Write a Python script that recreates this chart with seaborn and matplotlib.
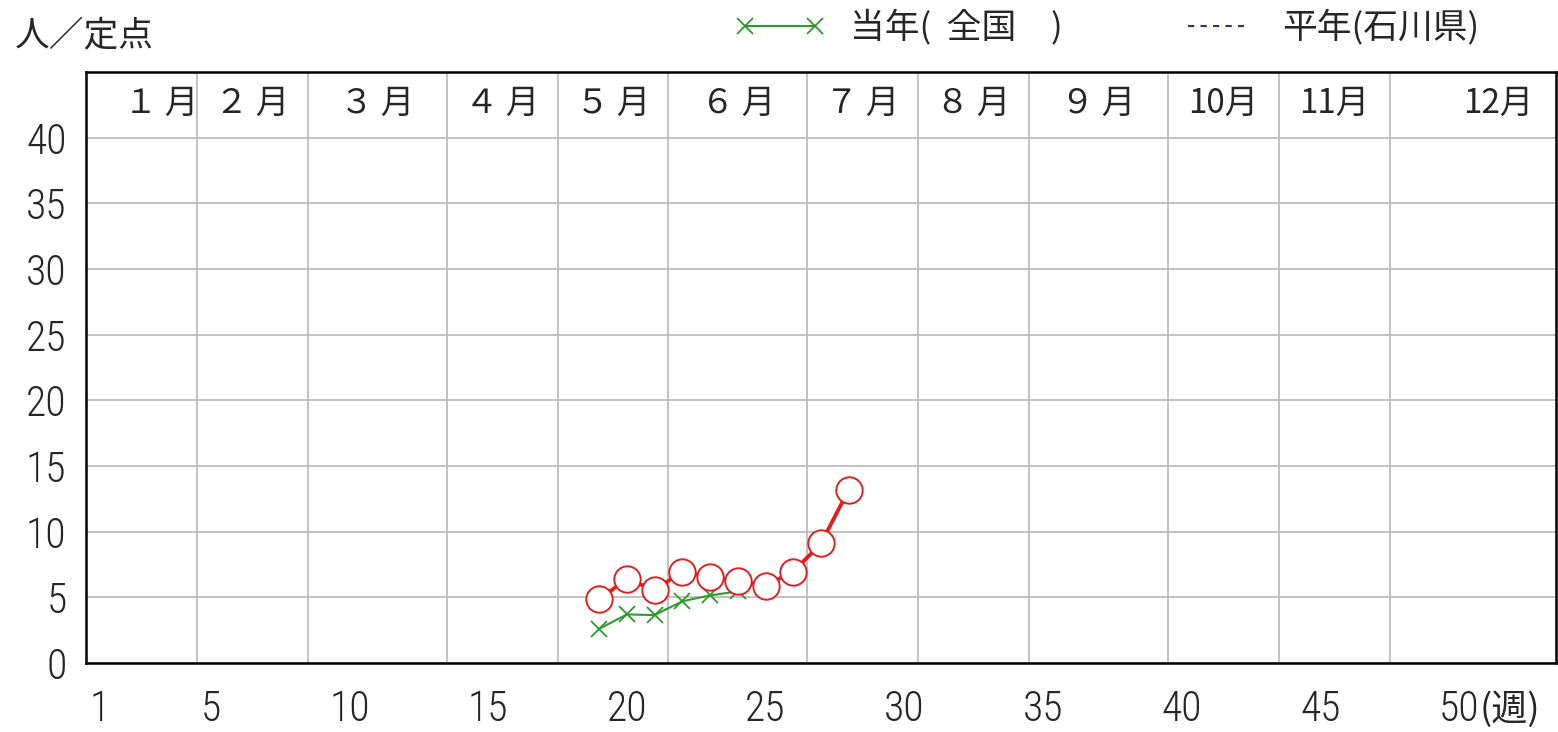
import numpy as np
import pandas as pd
import matplotlib.pyplot as plt
import seaborn as sns
from matplotlib.lines import Line2D

# 当年(石川県) - red circles
weeks_ishikawa = [19, 20, 21, 22, 23, 24, 25, 26, 27, 28]
val_ishikawa = [4.85, 6.4, 5.55, 6.95, 6.55, 6.25, 5.9, 6.95, 9.1, 13.2]
# 当年(全国) - green crosses
weeks_zenkoku = [19, 20, 21, 22, 23, 24]
val_zenkoku = [2.6, 3.7, 3.65, 4.7, 5.15, 5.45]

month_labels = ["１ 月", "２ 月", "３ 月", "４ 月", "５ 月", "６ 月", "７ 月", "８ 月", "９ 月", "10月", "11月", "12月"]
month_edges = [0, 4, 8, 13, 17, 21, 26, 30, 34, 39, 43, 47, 53]
week_labels = [1, 5, 10, 15, 20, 25, 30, 35, 40, 45, 50]
y_ticks = [0, 5, 10, 15, 20, 25, 30, 35, 40]

RED = "#e02020"
GREEN = "#2e9a2e"
BLUE = "#2a2aa8"
GRID = "#b8b8b8"
JP = "Noto Sans CJK JP"
NUM = ["Liberation Sans Narrow", "Roboto Condensed", "Noto Sans Condensed",
       "Open Sans Condensed", "DejaVu Sans Condensed", "Noto Sans CJK JP"]

sns.set_style("white")
plt.rcParams["font.family"] = ["Noto Sans CJK JP", "DejaVu Sans"]

W, H = 1558, 732
fig = plt.figure(figsize=(W / 100, H / 100), dpi=100)
ax = fig.add_axes([86 / W, (H - 663) / H, (1556 - 86) / W, (663 - 72) / H])

ax.set_xlim(0, 53)
ax.set_ylim(0, 45)

# grid
ax.set_yticks(y_ticks)
ax.yaxis.grid(True, color=GRID, lw=1.2)
ax.xaxis.grid(False)
ax.vlines(month_edges[1:-1], 0, 45, color=GRID, lw=1.2, zorder=0.5)
ax.set_axisbelow(True)

df_z = pd.DataFrame({"x": np.array(weeks_zenkoku) - 0.5, "y": val_zenkoku})
df_i = pd.DataFrame({"x": np.array(weeks_ishikawa) - 0.5, "y": val_ishikawa})

sns.lineplot(data=df_z, x="x", y="y", ax=ax, color=GREEN, lw=1.5,
             marker="x", markersize=11, markeredgewidth=1.3,
             markeredgecolor=GREEN, zorder=3)
sns.lineplot(data=df_i, x="x", y="y", ax=ax, color=RED, lw=2.8,
             marker="o", markersize=19, markerfacecolor="white",
             markeredgecolor=RED, markeredgewidth=1.4, zorder=4)
ax.set_xlabel("")
ax.set_ylabel("")

# ticks
ax.set_xticks(np.arange(0, 54), minor=True)
ax.set_xticks(np.array(week_labels) - 0.5)
ax.set_xticklabels([str(w) for w in week_labels])
ax.tick_params(axis="x", which="minor", length=9.5, width=1.6, color="black", direction="out")
ax.tick_params(axis="x", which="major", length=0, pad=19, labelsize=30)
ax.tick_params(axis="y", length=0, pad=14, labelsize=30)
for lab in ax.get_xticklabels() + ax.get_yticklabels():
    lab.set_family(NUM)
    lab.set_fontstretch("condensed")
    lab.set_fontweight("light")

for s in ax.spines.values():
    s.set_color("black")
    s.set_linewidth(1.8)

# (週) after the last week label
last = ax.get_xticklabels()[-1]
ax.annotate("(週)", xy=(1, 0.5), xycoords=last, ha="left", va="center",
            fontsize=26, family=JP)

# month labels in the top band
month_nudge = {0: 0.7, 11: 0.9}
for i, lab in enumerate(month_labels):
    cx = (month_edges[i] + month_edges[i + 1]) / 2 + month_nudge.get(i, 0)
    ax.text(cx, 42.6, lab, ha="center", va="center", fontsize=24, family=JP)

fig.text(15 / W, 1 - 37 / H, "人／定点", ha="left", va="center", fontsize=25, family=JP)

# legend
h1 = Line2D([], [], color=GREEN, lw=1.5, marker="x", markersize=11, markeredgewidth=1.3)
h2 = Line2D([], [], color=BLUE, lw=1.5, ls=(0, (3, 3)))
fig.legend([h1], ["当年(  全国　)"], loc="center left", bbox_to_anchor=(735 / W, 1 - 28 / H),
           frameon=False, numpoints=2, handlelength=2.6, handletextpad=0.7,
           borderpad=0, borderaxespad=0, prop={"family": JP, "size": 25})
fig.legend([h2], ["平年(石川県)"], loc="center left", bbox_to_anchor=(1188 / W, 1 - 28 / H),
           frameon=False, handlelength=1.6, handletextpad=1.1,
           borderpad=0, borderaxespad=0, prop={"family": JP, "size": 25})

fig.savefig("out.png", dpi=100)
